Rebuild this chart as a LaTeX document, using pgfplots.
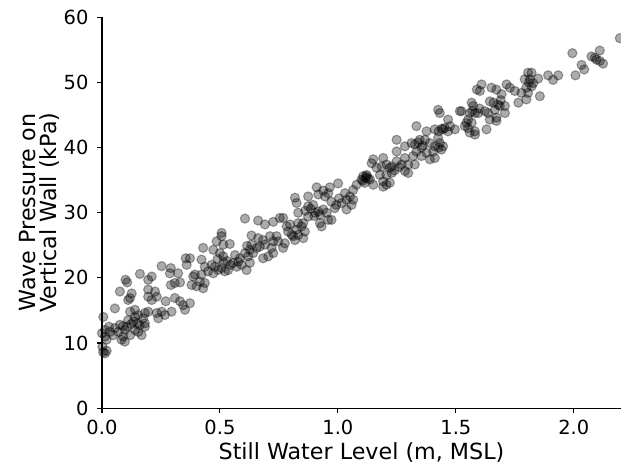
\documentclass[border=0pt]{standalone}
\usepackage{fontspec}
\setmainfont{DejaVu Sans}
\usepackage{pgfplots}
\pgfplotsset{compat=1.18}
\pgfplotstableread{
x y
0.355 23.0
0.253 21.8
0.292 21.5
0.323 20.7
0.288 20.7
0.359 22.0
0.161 20.6
0.211 20.2
0.196 19.7
0.100 19.7
0.107 19.3
0.309 19.2
0.292 18.9
0.331 19.3
0.076 17.9
0.126 17.6
0.196 18.2
0.225 17.9
0.232 17.1
0.111 16.6
0.119 16.9
0.211 16.6
0.196 17.1
0.270 16.4
0.309 16.9
0.331 16.4
0.344 15.8
0.352 15.1
0.055 15.3
0.119 14.8
0.140 15.1
0.154 14.3
0.182 14.6
0.196 14.8
0.232 14.6
0.253 14.8
0.267 14.3
0.239 13.8
0.295 14.8
0.006 14.0
0.175 13.8
0.182 13.0
0.111 13.5
0.133 13.3
0.140 14.0
0.076 12.8
0.055 12.3
0.069 11.7
0.097 12.0
0.105 12.5
0.140 12.0
0.154 11.7
0.182 12.5
0.168 11.2
0.048 11.2
0.034 11.7
0.013 12.0
0.083 10.5
0.097 10.2
0.090 11.0
0.013 11.0
0.013 8.4
0.000 11.5
0.002 9.4
0.005 8.6
0.020 8.8
0.150 13.0
0.160 12.7
0.125 12.9
0.090 12.6
0.120 11.2
0.030 12.5
0.020 10.5
0.606 29.1
0.662 28.8
0.691 28.2
0.726 28.6
0.507 26.9
0.507 26.4
0.634 26.5
0.662 26.1
0.683 25.8
0.712 26.4
0.726 25.6
0.486 25.6
0.514 25.1
0.542 25.2
0.429 24.6
0.472 24.3
0.634 25.1
0.656 24.6
0.627 24.3
0.669 24.8
0.691 25.1
0.719 24.6
0.726 23.8
0.500 23.8
0.514 23.3
0.564 23.5
0.585 23.0
0.578 22.5
0.606 23.8
0.620 23.3
0.641 23.8
0.683 23.0
0.705 23.3
0.373 23.0
0.422 22.8
0.465 22.0
0.479 21.7
0.493 21.2
0.507 21.5
0.521 21.0
0.535 21.2
0.436 21.7
0.450 21.0
0.472 20.7
0.556 22.3
0.571 21.7
0.592 22.0
0.627 22.3
0.613 21.2
0.394 20.5
0.387 20.2
0.422 20.5
0.415 19.4
0.401 18.7
0.380 18.9
0.436 19.2
0.429 18.4
0.373 16.1
0.530 22.6
0.545 22.0
0.515 22.4
0.490 22.9
0.615 24.9
0.910 33.9
0.938 33.4
0.966 33.9
1.001 34.5
0.874 32.5
0.917 32.8
0.945 32.5
0.959 33.0
1.030 33.0
1.051 32.5
1.065 32.0
1.037 32.0
1.016 31.5
0.994 31.2
0.987 30.7
1.037 30.5
1.058 31.2
0.818 32.3
0.825 31.5
0.874 31.0
0.895 31.2
0.917 30.2
0.903 30.0
0.924 29.7
0.938 30.5
0.952 30.0
0.973 28.9
0.959 28.9
0.832 30.0
0.874 29.4
0.931 27.9
0.924 28.4
0.832 28.4
0.853 28.4
0.846 27.9
0.825 27.4
0.860 27.1
0.832 26.6
0.811 26.4
0.818 25.8
0.853 26.1
0.797 28.2
0.789 27.1
0.804 26.6
0.754 29.2
0.768 29.2
0.783 27.9
0.740 26.4
0.747 25.6
0.768 24.6
0.775 25.3
0.862 30.3
0.885 30.6
0.900 29.5
0.972 31.7
1.005 32.2
1.333 43.3
1.376 42.5
1.411 42.8
1.249 41.2
1.284 40.2
1.312 40.7
1.326 40.5
1.347 41.2
1.369 41.2
1.390 40.7
1.411 40.2
1.354 40.0
1.333 39.4
1.354 38.7
1.390 38.2
1.319 38.7
1.376 39.2
1.404 39.4
1.249 39.4
1.284 38.4
1.249 37.9
1.192 38.4
1.150 38.2
1.143 37.6
1.206 37.4
1.228 37.1
1.270 37.4
1.298 37.4
1.326 37.4
1.298 36.1
1.284 36.4
1.164 36.9
1.185 37.1
1.220 36.9
1.228 36.1
1.206 35.8
1.178 35.8
1.192 34.8
1.206 34.3
1.220 34.6
1.107 35.6
1.122 35.8
1.128 35.3
1.136 35.1
1.100 35.1
1.114 34.6
1.150 34.3
1.079 34.3
1.065 33.5
1.192 34.0
1.118 35.3
1.120 35.6
1.105 34.9
1.260 37.0
1.240 36.5
1.340 40.8
1.360 40.3
1.609 49.7
1.651 49.2
1.672 48.9
1.715 49.7
1.729 49.2
1.750 48.7
1.778 48.4
1.589 48.9
1.602 48.7
1.694 48.2
1.765 46.9
1.567 46.9
1.574 46.4
1.644 47.1
1.679 46.6
1.686 46.4
1.665 45.8
1.637 45.3
1.623 45.6
1.595 45.3
1.581 45.3
1.559 45.3
1.524 45.6
1.517 45.6
1.708 46.4
1.708 45.3
1.672 44.6
1.644 44.3
1.630 42.8
1.672 44.1
1.552 44.3
1.567 43.8
1.545 43.8
1.538 43.3
1.552 43.0
1.581 42.5
1.581 42.0
1.559 42.3
1.467 44.3
1.425 45.8
1.432 45.3
1.453 43.0
1.475 43.3
1.496 42.8
1.467 42.5
1.446 42.8
1.427 42.5
1.425 41.5
1.432 40.7
1.446 40.2
1.439 39.7
1.427 40.0
1.411 38.4
1.440 42.9
1.570 45.6
1.600 46.0
1.660 46.9
1.690 47.3
2.195 56.8
2.110 54.9
2.075 54.0
2.096 53.5
2.110 53.3
2.124 52.9
2.089 53.8
1.994 54.5
2.033 52.7
2.044 52.0
2.007 51.1
1.934 51.1
1.912 50.4
1.891 51.1
1.849 50.6
1.821 51.5
1.806 51.5
1.814 50.5
1.792 50.5
1.828 49.9
1.821 49.4
1.799 49.2
1.806 48.4
1.799 47.4
1.856 47.9
1.810 50.0
}\datatable
\begin{document}
\begin{tikzpicture}
\begin{axis}[
  scale only axis,
  width=373.7pt, height=281.3pt,
  xmin=0, xmax=2.2, ymin=0, ymax=60,
  axis x line*=bottom, axis y line*=left,
  axis line style={line width=0.8pt, black},
  tick align=outside,
  major tick length=3.5pt,
  tick style={line width=0.8pt, black},
  xtick={0,0.5,1,1.5,2},
  xticklabels={0.0,0.5,1.0,1.5,2.0},
  ytick={0,10,20,30,40,50,60},
  yticklabels={0,10,20,30,40,50,60},
  ticklabel style={font=\fontsize{14}{16}\selectfont, inner sep=0pt},
  xticklabel style={anchor=north, yshift=-5pt},
  yticklabel style={anchor=east, xshift=-6pt},
  xlabel={Still Water Level (m, MSL)},
  xlabel style={font=\fontsize{16}{19}\selectfont, inner sep=0pt, at={(axis description cs:0.5,0)}, anchor=base, yshift=-37.1pt},
  ylabel={Wave Pressure on\\Vertical Wall (kPa)},
  ylabel style={font=\fontsize{16}{14.6}\selectfont, align=center, inner sep=0pt, at={(axis description cs:-0.082,0.5)}, anchor=south, rotate=0},
]
\addplot[only marks, mark=*, mark size=3.3pt,
  mark options={draw=black, fill=black, opacity=0.33, line width=0.8pt}]
  table[x=x, y=y] {\datatable};
\end{axis}
\pgfresetboundingbox
\path (-73.4pt,-41pt) rectangle (373.7pt,293.8pt);
\end{tikzpicture}
\end{document}
